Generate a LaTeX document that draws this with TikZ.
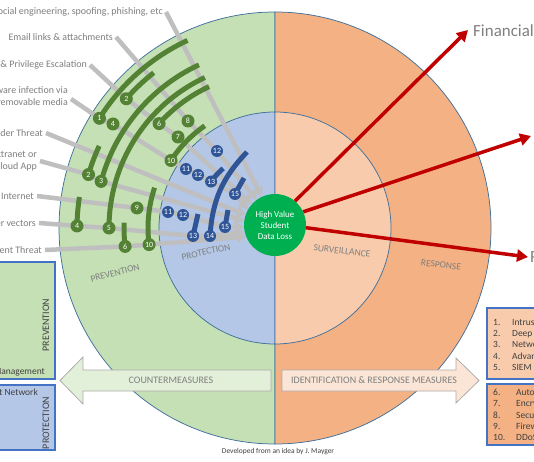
\documentclass[tikz,border=0pt]{standalone}
\usepackage{fontspec}
\setmainfont{Carlito}
\usetikzlibrary{arrows.meta}
\definecolor{ringgreen}{HTML}{C5E0B4}
\definecolor{ringorange}{HTML}{F4B183}
\definecolor{innerblue}{HTML}{B4C7E7}
\definecolor{innerorange}{HTML}{F8CBAD}
\definecolor{edgeblue}{HTML}{41719C}
\definecolor{bargreen}{HTML}{548235}
\definecolor{barblue}{HTML}{2F5597}
\definecolor{coregreen}{HTML}{00B050}
\definecolor{threatgray}{HTML}{BFBFBF}
\definecolor{labelgray}{HTML}{7F7F7F}
\definecolor{darktext}{HTML}{404040}
\definecolor{lossred}{HTML}{C00000}
\definecolor{boxblue}{HTML}{4472C4}
\definecolor{arrowgreen}{HTML}{E2F0D9}
\definecolor{arroworange}{HTML}{FBE5D6}
\definecolor{arrowedge}{HTML}{AFABAB}
\newcommand{\myfs}[2]{\fontsize{#1}{#2}\selectfont}
\begin{document}
\begin{tikzpicture}[x=1bp,y=1bp,
  ringedge/.style={draw=edgeblue, line width=0.75bp},
  ringlabel/.style={text=labelgray, font=\myfs{9.5}{11}, inner sep=0pt},
  barG/.style={draw=bargreen, line width=5bp},
  barB/.style={draw=barblue, line width=5bp},
  threat/.style={draw=threatgray, line width=4.5bp, line join=round, -{Triangle[length=9bp,width=11bp]}},
  threatlabel/.style={text=labelgray, font=\myfs{10}{12}, anchor=east, inner sep=3bp, align=right},
  gdot/.style={circle, fill=bargreen, text=white, font=\myfs{8}{8}, minimum size=13bp, inner sep=0pt},
  bdot/.style={circle, fill=barblue, text=white, font=\myfs{8}{8}, minimum size=12bp, inner sep=0pt},
  corenode/.style={circle, fill=coregreen, text=white, font=\myfs{9}{11}, minimum size=62bp, inner sep=0pt, align=center},
  loss/.style={draw=lossred, line width=3.5bp, -{Triangle[length=11bp,width=12bp]}},
  losslabel/.style={text=labelgray, font=\myfs{17}{20}, anchor=west, inner sep=0pt},
  boxG/.style={fill=ringgreen, draw=boxblue, line width=1.2bp},
  boxB/.style={fill=innerblue, draw=boxblue, line width=1.2bp},
  boxO1/.style={fill=innerorange, draw=boxblue, line width=1.2bp},
  boxO2/.style={fill=ringorange, draw=boxblue, line width=1.2bp},
  boxtext/.style={text=darktext, font=\myfs{10}{12}, inner sep=0pt},
  listitem/.style={text=darktext, font=\myfs{9.5}{11}, inner sep=0pt, anchor=base west},
  arrowtext/.style={text=labelgray, font=\myfs{10}{12}, inner sep=0pt},
  credit/.style={text=darktext, font=\myfs{7.5}{9}, inner sep=0pt}
]
\useasboundingbox (0,-462) rectangle (534,0);
\clip (0,-462) rectangle (534,0);
\fill[white] (0,-462) rectangle (534,0);
\coordinate (C) at (275,-228);

% rings
\filldraw[ringedge, fill=ringgreen] (275,-12) arc[start angle=90,end angle=270,radius=216] -- cycle;
\filldraw[ringedge, fill=ringorange] (275,-12) arc[start angle=90,end angle=-90,radius=216] -- cycle;
\filldraw[ringedge, fill=innerblue] (275,-112) arc[start angle=90,end angle=270,radius=116] -- cycle;
\filldraw[ringedge, fill=innerorange] (275,-112) arc[start angle=90,end angle=-90,radius=116] -- cycle;

% ring labels
\node[ringlabel, rotate=14.5] (tprev) at (115,-273) {PREVENTION};
\node[ringlabel, rotate=12] (tprot) at (206,-252) {PROTECTION};
\node[ringlabel, rotate=-7] (tsurv) at (342,-251) {SURVEILLANCE};
\node[ringlabel, rotate=-7] (tresp) at (441,-265) {RESPONSE};

% dot positions
\coordinate (pg1) at ([shift={(C)}]148:207);
\coordinate (pg2a) at ([shift={(C)}]139:197);
\coordinate (pg4a) at (113,-124);
\coordinate (pg6a) at ([shift={(C)}]138:156);
\coordinate (pg8) at (188,-121);
\coordinate (pg7) at (178,-137);
\coordinate (pg10a) at ([shift={(C)}]147:124);
\coordinate (pg2b) at ([shift={(C)}]164:194);
\coordinate (pg3) at ([shift={(C)}]165:180);
\coordinate (pg9) at (137,-208);
\coordinate (pg4b) at ([shift={(C)}]179.4:198);
\coordinate (pg5) at ([shift={(C)}]180:166);
\coordinate (pg6b) at ([shift={(C)}]187:151);
\coordinate (pg10b) at ([shift={(C)}]187.5:127);
\coordinate (pb12a) at (217,-151);
\coordinate (pb11a) at (186,-169);
\coordinate (pb12b) at (198,-175);
\coordinate (pb13a) at ([shift={(C)}]144:79);
\coordinate (pb15a) at (235,-194);
\coordinate (pb11b) at (168,-212);
\coordinate (pb12c) at (183,-215);
\coordinate (pb15b) at (225,-227);
\coordinate (pb13b) at (193,-236);
\coordinate (pb14) at (210,-236);

% core
\node[corenode] (core) at (275,-225) {High Value\\Student\\Data Loss};

% threat labels
\node[threatlabel] (t1) at (166,-12) {Social engineering, spoofing, phishing, etc};
\node[threatlabel] (t2) at (116,-37) {Email links \& attachments};
\node[threatlabel] (t3) at (90,-65) {Hacking \& Privilege Escalation};
\node[threatlabel] (t4) at (71,-96) {Malware infection via\\removable media};
\node[threatlabel] (t5) at (46,-133) {Insider Threat};
\node[threatlabel] (t6) at (40,-161) {Extranet or\\Cloud App};
\node[threatlabel] (t7) at (37,-196) {Internet};
\node[threatlabel] (t8) at (39,-223) {Other vectors};
\node[threatlabel] (t9) at (45,-250) {Persistent Threat};

% threat vectors
\draw[threat] (t1.east) -- (core.115);
\draw[threat] (t2.east) -- (pg8) -- (pb12a) -- (core.126);
\draw[threat] (t3.east) -- (pg2a) -- (pg6a) -- (pg7) -- (core.138);
\draw[threat] ([yshift=-3bp]t4.east) -- (pg1) -- (pg4a) -- (pg10a) -- (pb11a) -- (pb12b) -- (pb13a) -- (pb15a) -- (core.150);
\draw[threat] (t5.east) -- (core.161);
\draw[threat] (t6.east) -- (pg2b) -- (pg3) -- (core.172);
\draw[threat] (t7.east) -- (pg9) -- (pb11b) -- (pb12c) -- (pb15b) -- (core.184);
\draw[threat] (t8.east) -- (pg4b) -- (pg5) -- (pb13b) -- (pb14) -- (core.193);
\draw[threat] (t9.east) -- (pg6b) -- (pg10b) -- (core.202);

% green barriers
\draw[barG] (pg1) arc[start angle=148,end angle=115,radius=207];
\draw[barG] (pg2a) arc[start angle=139,end angle=128,radius=197];
\draw[barG] (pg3) arc[start angle=165,end angle=115,radius=180];
\draw[barG] (pg5) arc[start angle=180,end angle=115,radius=166];
\draw[barG] (pg6a) arc[start angle=138,end angle=115,radius=156];
\draw[barG] (pg10a) arc[start angle=147,end angle=124.5,radius=124];
\draw[barG] (pg2b) arc[start angle=164,end angle=155,radius=194];
\draw[barG] (pg4b) arc[start angle=179.4,end angle=171,radius=198];
\draw[barG] (pg6b) arc[start angle=187,end angle=178,radius=151];
\draw[barG] (pg10b) arc[start angle=187.5,end angle=161.5,radius=127];

% blue barriers
\coordinate (eb15a) at (244,-178);
\coordinate (eb14) at (247,-152);
\coordinate (eb13b) at (198,-214);
\coordinate (eb15b) at (228,-210);
\draw[barB] (pb13a) arc[start angle=144,end angle=131,radius=79];
\draw[barB] (pb15a) -- (eb15a);
\draw[barB] (pb14) to[bend left=20] (eb14);
\draw[barB] (pb13b) -- (eb13b);
\draw[barB] (pb15b) -- (eb15b);

% dots
\node[gdot] (g1) at (pg1) {1};
\node[gdot] (g2a) at (pg2a) {2};
\node[gdot] (g4a) at (pg4a) {4};
\node[gdot] (g6a) at (pg6a) {6};
\node[gdot] (g8) at (pg8) {8};
\node[gdot] (g7) at (pg7) {7};
\node[gdot] (g10a) at (pg10a) {10};
\node[gdot] (g2b) at (pg2b) {2};
\node[gdot] (g3) at (pg3) {3};
\node[gdot] (g9) at (pg9) {9};
\node[gdot] (g4b) at (pg4b) {4};
\node[gdot] (g5) at (pg5) {5};
\node[gdot] (g6b) at (pg6b) {6};
\node[gdot] (g10b) at (pg10b) {10};
\node[bdot] (b12a) at (pb12a) {12};
\node[bdot] (b11a) at (pb11a) {11};
\node[bdot] (b12b) at (pb12b) {12};
\node[bdot] (b13a) at (pb13a) {13};
\node[bdot] (b15a) at (pb15a) {15};
\node[bdot] (b11b) at (pb11b) {11};
\node[bdot] (b12c) at (pb12c) {12};
\node[bdot] (b15b) at (pb15b) {15};
\node[bdot] (b13b) at (pb13b) {13};
\node[bdot] (b14) at (pb14) {14};

% losses
\coordinate (f1) at (468,-30);
\coordinate (f2) at (531,-136);
\coordinate (f3) at (528,-257);
\draw[loss] (core.50) -- (f1);
\draw[loss] (core.25) -- (f2);
\draw[loss] (core.-5) -- (f3);
\node[losslabel] (l1) at (473,-31) {Financial};
\node[losslabel] (l3) at (530,-258) {Reputational};

% left boxes
\filldraw[boxG] (-10,-262) rectangle (55,-379);
\filldraw[boxB] (-10,-385) rectangle (55,-450);
\node[boxtext, rotate=90] (bprev) at (46,-325) {PREVENTION};
\node[boxtext, rotate=90] (bprot) at (46,-423) {PROTECTION};
\node[boxtext, anchor=east, font=\myfs{9.5}{11}] (bman) at (45,-372) {Patch Management};
\node[boxtext, anchor=east, font=\myfs{9.5}{11}] (bnet) at (38,-392) {Student Network};

% right boxes
\filldraw[boxO1] (487,-308) rectangle (545,-379);
\filldraw[boxO2] (487,-384) rectangle (545,-445);
\foreach \n/\t/\y/\xx in {1./Intrusion Detection System/325/512, 2./Deep Packet Inspection/336/512, 3./Network Monitoring/347/512, 4./Advanced Threat Analytics/359/512, 5./SIEM/370/512, 6./Automated Patching/395/516, 7./Encryption/406/516, 8./Secure Configuration/418/516, 9./Firewalls/429/516, 10./DDoS Protection/440/516}{
  \node[listitem] (num\y) at (493,-\y) {\n};
  \node[listitem] (txt\y) at (\xx,-\y) {\t};
}

% block arrows
\filldraw[fill=arrowgreen, draw=arrowedge, line width=0.8bp] (60,-380.5) -- (83,-357) -- (83,-370) -- (271,-370) -- (271,-391) -- (83,-391) -- (83,-404) -- cycle;
\node[arrowtext] (cm) at (171,-380.5) {COUNTERMEASURES};
\filldraw[fill=arroworange, draw=arrowedge, line width=0.8bp] (282,-370) -- (456,-370) -- (456,-358) -- (479,-380.5) -- (456,-403) -- (456,-391) -- (282,-391) -- cycle;
\node[arrowtext] (irm) at (374,-380.5) {IDENTIFICATION \& RESPONSE MEASURES};

% credit
\node[credit] (cred) at (278,-452) {Developed from an idea by J. Mayger};
\end{tikzpicture}
\end{document}
